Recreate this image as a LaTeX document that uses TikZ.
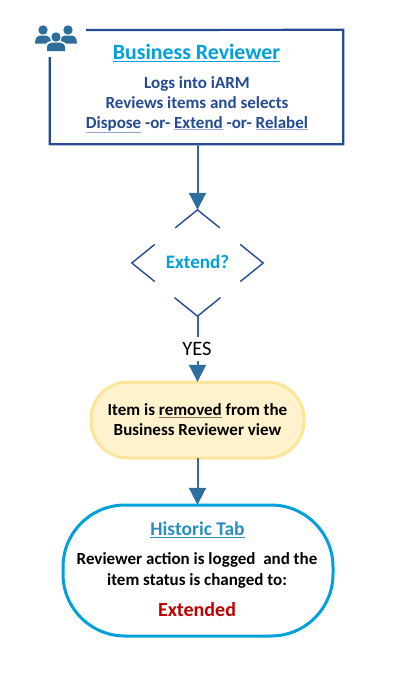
\documentclass[tikz,border=0pt]{standalone}
\usepackage{fontspec}
\setmainfont{Carlito}
\usetikzlibrary{shapes.geometric,calc,arrows.meta}
\definecolor{navy}{HTML}{234A92}
\definecolor{steel}{HTML}{2E6E9C}
\definecolor{sky}{HTML}{00A0DC}
\definecolor{softblue}{HTML}{8FA5CC}
\definecolor{softgrey}{HTML}{7F7864}
\definecolor{hist}{HTML}{2A8FC0}
\definecolor{pale}{HTML}{FFF2CC}
\definecolor{gold}{HTML}{FFE599}
\definecolor{crimson}{HTML}{C00000}
\newcommand\ulc[2]{\rlap{\color{#1}\underline{\phantom{#2}}}#2}
\tikzset{
  flow/.style={draw=steel,line width=2pt,-{Triangle[length=17pt,width=17pt]},shorten >=0pt},
  plainflow/.style={draw=steel,line width=2pt},
  frame/.style={draw=navy,line width=2.2pt,line join=miter},
  arm/.style={draw=navy,line width=1.4pt,line join=miter},
  txt/.style={font=\bfseries,align=center,inner sep=0pt},
}
\begin{document}
\begin{tikzpicture}[x=1pt,y=-1pt]
\useasboundingbox (0,0) rectangle (416,678);
% nodes
\node[minimum width=293pt,minimum height=114pt,inner sep=0pt] (rev) at (196.5,87) {};
\node[txt,font=\bfseries\fontsize{21.8}{24}\selectfont,text=sky] (revtitle) at (196.5,53) {\underline{Business Reviewer}};
\node[txt,font=\bfseries\fontsize{17}{20}\selectfont,text=navy] (revbody) at (197,104.5) {Logs into iARM\\Reviews items and selects\\\ulc{softblue}{Dispose} -or- \ulc{softblue}{Extend} -or- \ulc{softblue}{Relabel}};
\node[diamond,minimum width=131pt,minimum height=106pt,inner sep=0pt,aspect=1.236] (dec) at (197.5,263) {};
\node[txt,font=\bfseries\fontsize{19}{22}\selectfont,text=sky] (dectext) at (197.5,261.5) {Extend?};
\node[font=\fontsize{20.5}{24}\selectfont,inner sep=0pt,minimum height=24pt,text=black] (yes) at (197,349) {YES};
\draw[draw=gold,fill=pale,line width=3pt,rounded corners=37pt] (91,382) rectangle (304,458);
\node[minimum width=213pt,minimum height=76pt,inner sep=0pt] (item) at (197.5,420) {};
\node[txt,font=\bfseries\fontsize{17}{20}\selectfont] (itemtext) at (197.5,420) {Item is \ulc{softgrey}{removed} from the\\Business Reviewer view};
\draw[draw=sky,line width=3pt,fill=white,rounded corners=62pt] (63,505) rectangle (333,636);
\node[minimum width=270pt,minimum height=131pt,inner sep=0pt] (hist) at (198,570.5) {};
\node[txt,font=\bfseries\fontsize{19.5}{22}\selectfont,text=hist] (histtitle) at (197.5,530) {\underline{Historic Tab}};
\node[txt,font=\bfseries\fontsize{17}{21}\selectfont] (histbody) at (197,570) {Reviewer action is logged\ \ and the\\item status is changed to:};
\node[txt,font=\bfseries\fontsize{20}{24}\selectfont,text=crimson] (histstatus) at (197,609.5) {Extended};
% open frame
\draw[frame] (rev.north west |- 0,57) -- (rev.south west) -- (rev.south east) -- (rev.north east) -- (86,30);
% diamond arms
\draw[arm] ($(dec.north)!0.34!(dec.west)$) -- (dec.north) -- ($(dec.north)!0.34!(dec.east)$);
\draw[arm] ($(dec.west)!0.35!(dec.north)$) -- (dec.west) -- ($(dec.west)!0.35!(dec.south)$);
\draw[arm] ($(dec.east)!0.35!(dec.north)$) -- (dec.east) -- ($(dec.east)!0.35!(dec.south)$);
\draw[arm] ($(dec.south)!0.35!(dec.west)$) -- (dec.south) -- ($(dec.south)!0.35!(dec.east)$);
% connectors
\draw[flow] (rev.south -| dec.north) -- (dec.north);
\draw[plainflow] (dec.south) -- (yes.north -| dec.south);
\draw[flow] (yes.south -| dec.south) -- (item.north);
\draw[flow] (item.south) -- (hist.north -| item.south);
% people icon
\fill[steel] (43,30) circle (4.7) (68,30) circle (4.7) (56,37) circle (4.7);
\fill[steel] (35,43.5) .. controls (35,37) and (38,35.5) .. (41,35.5) -- (45,35.5) .. controls (47,35.5) and (49,36.5) .. (50,38) .. controls (50,39) and (50,40) .. (51,41) .. controls (48,41.5) and (47,42) .. (46,43.5) -- cycle;
\fill[steel] (77,43.5) .. controls (77,37) and (74,35.5) .. (71,35.5) -- (66,35.5) .. controls (64,35.5) and (62,36.5) .. (61.5,38) .. controls (61.5,39) and (61.5,40) .. (60.5,41) .. controls (63,41.5) and (65,42) .. (66,43.5) -- cycle;
\fill[steel] (47,51) -- (47,47.5) .. controls (47,44) and (50,42.5) .. (53,42.5) -- (59,42.5) .. controls (62,42.5) and (65,44) .. (65,47.5) -- (65,51) -- cycle;
\end{tikzpicture}
\end{document}
